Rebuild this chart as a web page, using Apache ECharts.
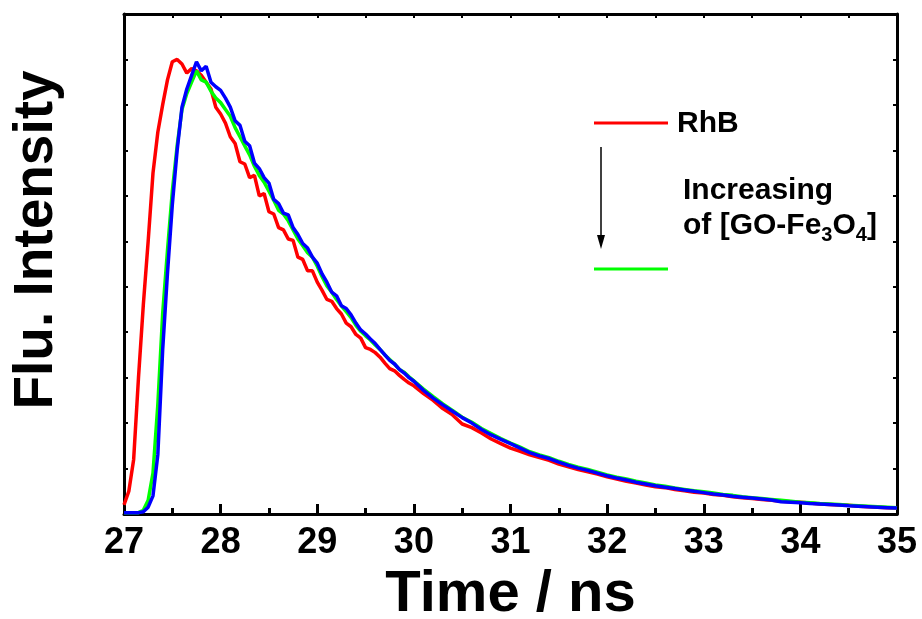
<!DOCTYPE html>
<html><head><meta charset="utf-8">
<script src="https://cdn.jsdelivr.net/npm/echarts@6/dist/echarts.min.js"></script>
<style>html,body{margin:0;padding:0;background:#fff}#c{width:922px;height:619px}</style>
</head><body><div id="c"></div>
<script>
// time axis (ns)
const times = [
27.00,27.05,27.10,27.15,27.20,27.25,27.30,27.35,27.40,27.45,27.50,27.55,27.60,27.65,27.70,27.75,27.80,27.85,27.90,27.95,
28.00,28.05,28.10,28.15,28.20,28.25,28.30,28.35,28.40,28.45,28.50,28.55,28.60,28.65,28.70,28.75,28.80,28.85,28.90,28.95,
29.00,29.05,29.10,29.15,29.20,29.25,29.30,29.35,29.40,29.45,29.50,29.55,29.60,29.65,29.70,29.75,29.80,29.85,29.90,29.95,
30.0,30.1,30.2,30.3,30.4,30.5,30.6,30.7,30.8,30.9,31.0,31.1,31.2,31.3,31.4,31.5,31.6,31.7,31.8,31.9,
32.0,32.1,32.2,32.3,32.4,32.5,32.6,32.7,32.8,32.9,33.0,33.1,33.2,33.3,33.4,33.5,33.6,33.7,33.8,33.9,
34.0,34.1,34.2,34.3,34.4,34.5,34.6,34.7,34.8,34.9,35.0];

// RhB
const rhb = [
0.02,0.05,0.12,0.30,0.46,0.60,0.75,0.84,0.90,0.955,0.995,1.00,0.99,0.97,0.98,0.975,0.965,0.95,0.935,0.895,
0.88,0.86,0.83,0.815,0.775,0.77,0.74,0.745,0.70,0.705,0.665,0.66,0.63,0.625,0.605,0.602,0.565,0.56,0.535,0.535,
0.51,0.492,0.472,0.468,0.452,0.44,0.42,0.412,0.395,0.387,0.366,0.362,0.355,0.345,0.332,0.32,0.315,0.305,0.296,0.288,
0.282,0.265,0.25,0.232,0.218,0.198,0.19,0.178,0.165,0.155,0.145,0.138,0.13,0.124,0.118,0.11,0.104,0.098,0.093,0.088,
0.082,0.077,0.072,0.068,0.064,0.06,0.058,0.054,0.051,0.048,0.046,0.043,0.041,0.038,0.036,0.034,0.032,0.03,0.028,0.027,
0.026,0.024,0.022,0.021,0.02,0.019,0.017,0.016,0.015,0.014,0.013];

// intermediate [GO-Fe3O4]
const mid = [
0.003,0.003,0.003,0.003,0.008,0.03,0.09,0.24,0.44,0.58,0.71,0.81,0.89,0.925,0.95,0.975,0.955,0.95,0.93,0.915,
0.905,0.89,0.875,0.85,0.83,0.81,0.79,0.765,0.745,0.73,0.71,0.69,0.668,0.66,0.645,0.625,0.605,0.59,0.575,0.565,
0.545,0.522,0.502,0.488,0.472,0.458,0.445,0.432,0.415,0.402,0.392,0.383,0.372,0.362,0.35,0.34,0.33,0.318,0.312,0.302,
0.293,0.275,0.258,0.242,0.228,0.213,0.202,0.188,0.177,0.166,0.156,0.147,0.137,0.13,0.124,0.116,0.109,0.103,0.098,0.092,
0.086,0.081,0.077,0.072,0.068,0.064,0.061,0.057,0.054,0.051,0.049,0.046,0.043,0.041,0.038,0.036,0.034,0.032,0.03,0.028,
0.026,0.025,0.023,0.022,0.021,0.019,0.018,0.017,0.016,0.015,0.014];

// highest [GO-Fe3O4]
const high = [
0.003,0.003,0.003,0.003,0.005,0.015,0.04,0.13,0.36,0.53,0.68,0.80,0.895,0.935,0.965,0.995,0.975,0.985,0.95,0.94,
0.932,0.915,0.895,0.865,0.855,0.82,0.81,0.772,0.76,0.74,0.728,0.692,0.683,0.662,0.658,0.63,0.615,0.595,0.585,0.565,
0.552,0.528,0.51,0.488,0.48,0.458,0.452,0.438,0.42,0.405,0.396,0.385,0.375,0.362,0.35,0.338,0.33,0.318,0.31,0.30,
0.292,0.272,0.255,0.24,0.226,0.212,0.20,0.186,0.174,0.164,0.155,0.145,0.135,0.128,0.122,0.114,0.107,0.101,0.096,0.09,
0.084,0.079,0.075,0.07,0.066,0.062,0.059,0.056,0.053,0.05,0.047,0.044,0.042,0.039,0.037,0.035,0.033,0.031,0.027,0.026,
0.025,0.023,0.022,0.021,0.02,0.018,0.017,0.016,0.015,0.014,0.013];

const xTicks = [27,28,29,30,31,32,33,34,35];
const legendTop = "RhB";
const legendLines = ["Increasing"];

const FONT = '"Liberation Sans", Arial, sans-serif';
const pairs = arr => times.map((t,i)=>[t,arr[i]]);

const chart = echarts.init(document.getElementById('c'), null, {renderer:'canvas'});
const axisLine = {show:true, onZero:false, lineStyle:{color:'#000', width:3}};
chart.setOption({
  animation:false,
  backgroundColor:'#fff',
  grid:{left:124, right:25, top:14, bottom:105, containLabel:false, outerBoundsMode:'none'},
  xAxis:[{
    type:'value', min:xTicks[0], max:xTicks[xTicks.length-1], interval:1, position:'bottom',
    axisLine:axisLine,
    axisTick:{show:true, inside:true, length:10, lineStyle:{color:'#000', width:3}},
    minorTick:{show:true, splitNumber:2, length:6, lineStyle:{color:'#000', width:3}},
    splitLine:{show:false},
    axisLabel:{color:'#000', fontFamily:FONT, fontWeight:'bold', fontSize:36, margin:11},
    name:'Time / ns', nameLocation:'middle', nameGap:52,
    nameTextStyle:{color:'#000', fontFamily:FONT, fontWeight:'bold', fontSize:58}
  },{
    type:'value', min:27, max:35, interval:0.5, position:'top',
    axisLine:axisLine,
    axisTick:{show:true, inside:true, length:4, lineStyle:{color:'#000', width:2}},
    splitLine:{show:false}, axisLabel:{show:false}
  }],
  yAxis:[{
    type:'value', min:0, max:1.1, interval:0.1, position:'left',
    axisLine:axisLine,
    axisTick:{show:true, inside:true, length:4, lineStyle:{color:'#000', width:2}},
    splitLine:{show:false}, axisLabel:{show:false}
  },{
    type:'value', min:0, max:1.1, interval:0.1, position:'right',
    axisLine:axisLine,
    axisTick:{show:true, inside:true, length:4, lineStyle:{color:'#000', width:2}},
    splitLine:{show:false}, axisLabel:{show:false}
  }],
  series:[
    {type:'line', data:pairs(rhb), showSymbol:false, lineStyle:{color:'#ff0000', width:3.5}, itemStyle:{color:'#ff0000'}, z:2},
    {type:'line', data:pairs(mid), showSymbol:false, lineStyle:{color:'#00ff00', width:3.5}, itemStyle:{color:'#00ff00'}, z:3},
    {type:'line', data:pairs(high), showSymbol:false, lineStyle:{color:'#0000ff', width:3.5}, itemStyle:{color:'#0000ff'}, z:4}
  ],
  graphic:[
    {type:'text', x:37, y:240, rotation:Math.PI/2, style:{text:'Flu. Intensity', fill:'#000', font:'bold 55px '+FONT, textAlign:'center', textVerticalAlign:'middle'}},
    {type:'line', shape:{x1:594, y1:123, x2:668, y2:123}, style:{stroke:'#ff0000', lineWidth:3}},
    {type:'text', x:677, y:124, style:{text:legendTop, fill:'#000', font:'bold 30px '+FONT, textVerticalAlign:'middle'}},
    {type:'line', shape:{x1:601, y1:147, x2:601, y2:237}, style:{stroke:'#000', lineWidth:1.5}},
    {type:'polygon', shape:{points:[[597,235],[605,235],[601,249]]}, style:{fill:'#000'}},
    {type:'text', x:683, y:191, style:{text:legendLines[0], fill:'#000', font:'bold 30px '+FONT, textVerticalAlign:'middle'}},
    {type:'text', x:683, y:207, style:{
      text:'{a|of [GO-Fe}{s|3}{a|O}{s|4}{a|]}', fill:'#000',
      rich:{
        a:{fontFamily:FONT, fontWeight:'bold', fontSize:30, lineHeight:38, verticalAlign:'middle', fill:'#000'},
        s:{fontFamily:FONT, fontWeight:'bold', fontSize:20, lineHeight:38, verticalAlign:'bottom', fill:'#000'}
      }}},
    {type:'line', shape:{x1:594, y1:269, x2:668, y2:269}, style:{stroke:'#00ff00', lineWidth:3}}
  ]
});
</script></body></html>
